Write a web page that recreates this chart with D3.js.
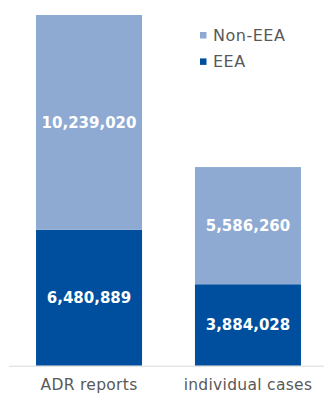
<!DOCTYPE html>
<html>
<head>
<meta charset="utf-8">
<script src="https://cdn.jsdelivr.net/npm/d3@7"></script>
<style>
  html, body { margin: 0; padding: 0; background: #fff; }
  svg { display: block; font-family: Verdana, "DejaVu Sans", sans-serif; }
</style>
</head>
<body>
<svg id="chart" width="324" height="394"></svg>
<script>
// Reports received, split by origin
const categories = ["ADR reports", "individual cases"];
const seriesNames = ["EEA", "Non-EEA"];
const eeaValues = [6480889, 3884028];
const nonEeaValues = [10239020, 5586260];
const seriesColors = ["#004f9e", "#8eaad3"];

const W = 324, H = 394;
const svg = d3.select("#chart");

const rows = categories.map((c, i) => ({ category: c, "EEA": eeaValues[i], "Non-EEA": nonEeaValues[i] }));
const stacked = d3.stack().keys(seriesNames)(rows);
const maxTotal = d3.max(rows, r => r["EEA"] + r["Non-EEA"]);

const x = d3.scaleBand().domain(categories).range([9, 328]).paddingInner(0.333).paddingOuter(0.17);
const y = d3.scaleLinear().domain([0, maxTotal]).range([365.7, 15]);
const color = d3.scaleOrdinal().domain(seriesNames).range(seriesColors);

// stacked bars
const layers = svg.append("g").selectAll("g")
  .data(stacked).join("g")
  .attr("fill", d => color(d.key));

layers.selectAll("rect")
  .data(d => d.map(p => ({ key: d.key, cat: p.data.category, y0: p[0], y1: p[1] })))
  .join("rect")
  .attr("x", d => x(d.cat))
  .attr("width", x.bandwidth())
  .attr("y", d => y(d.y1))
  .attr("height", d => y(d.y0) - y(d.y1));

// value labels centred in each segment
const fmt = d3.format(",");
layers.selectAll("text")
  .data(d => d.map(p => ({ cat: p.data.category, y0: p[0], y1: p[1] })))
  .join("text")
  .attr("x", d => x(d.cat) + x.bandwidth() / 2)
  .attr("y", d => (y(d.y0) + y(d.y1)) / 2)
  .attr("dy", "0.36em")
  .attr("text-anchor", "middle")
  .attr("fill", "#fff")
  .attr("font-weight", "bold")
  .attr("font-size", 15)
  .text(d => fmt(d.y1 - d.y0));

// baseline
svg.append("line")
  .attr("x1", 9).attr("x2", W)
  .attr("y1", y(0) + 0.5).attr("y2", y(0) + 0.5)
  .attr("stroke", "#d9d9d9").attr("stroke-width", 1);

// category axis
const xAxis = svg.append("g")
  .attr("transform", `translate(0,${y(0)})`)
  .call(d3.axisBottom(x).tickSize(0).tickPadding(0));
xAxis.select(".domain").remove();
xAxis.selectAll("text")
  .attr("y", 19.5)
  .attr("dy", "0.32em")
  .attr("fill", "#595959")
  .attr("font-size", 15.5)
  .attr("letter-spacing", 0.3)
  .attr("font-family", "Verdana, 'DejaVu Sans', sans-serif");

// legend (Non-EEA listed first)
const legendItems = seriesNames.slice().reverse();
const legend = svg.append("g").attr("transform", "translate(200,35)");
const li = legend.selectAll("g").data(legendItems).join("g")
  .attr("transform", (d, i) => `translate(0,${i * 26.4})`);
li.append("rect")
  .attr("x", 0).attr("y", -3).attr("width", 6.5).attr("height", 6.5)
  .attr("fill", d => color(d));
li.append("text")
  .attr("x", 13).attr("y", 0).attr("dy", "0.36em")
  .attr("fill", "#595959").attr("font-size", 16)
  .attr("letter-spacing", 0.5)
  .text(d => d);
</script>
</body>
</html>
